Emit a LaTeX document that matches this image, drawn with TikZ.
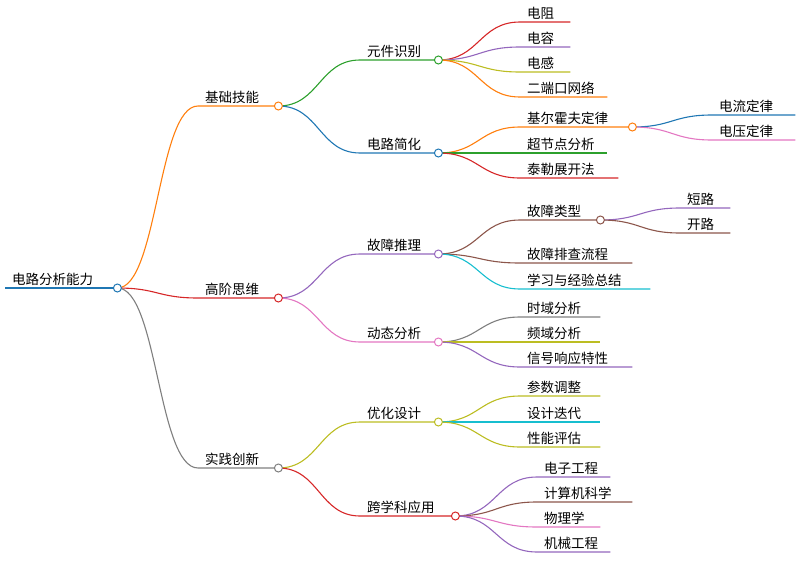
\documentclass[tikz,border=0pt]{standalone}
\usepackage{fontspec}
\setmainfont{Noto Sans CJK SC}
\usetikzlibrary{calc}
\definecolor{cor}{HTML}{FF7F0E}\definecolor{cre}{HTML}{D62728}
\definecolor{cgr}{HTML}{2CA02C}\definecolor{cbl}{HTML}{1F77B4}
\definecolor{cpu}{HTML}{9467BD}\definecolor{cpi}{HTML}{E377C2}
\definecolor{col}{HTML}{BCBD22}\definecolor{cbr}{HTML}{8C564B}
\definecolor{cgy}{HTML}{7F7F7F}\definecolor{ccy}{HTML}{17BECF}
\tikzset{lbl/.style={anchor=south west,inner xsep=0pt,inner ysep=2pt,font=\fontsize{13.5pt}{15pt}\selectfont,align=left},
 ln/.style={line width=1.1pt},
 dot/.style={circle,draw,fill=white,line width=1pt,minimum size=8pt,inner sep=0pt}}
\newcommand\dt[2]{\node[dot,draw=#2] at (#1.south east) {};}
\newcommand\cc[7]{%
 \node[lbl,text width=#4pt-#2pt] (#1) at (#2,#3) {\hspace*{7pt}#5};
 \draw[ln,#6] (#7) .. controls ($(#7)!0.5!(#7 -| #1.south west)$) and ($(#1.south west)!0.5!(#1.south west -| #7)$) .. (#1.south west) -- (#1.south east);}
\begin{document}
\begin{tikzpicture}[x=1pt,y=-1pt]
\useasboundingbox (0,0) rectangle (800,573);
\node[lbl,text width=112pt] (root) at (5,288) {\hspace*{7pt}电路分析能力};
\draw[line width=2.5pt,cbl] (root.south west) -- (root.south east);
\coordinate (r) at (root.south east);
\cc{a}{198}{106}{278}{基础技能}{cor}{r}
\cc{b}{198}{298}{278}{高阶思维}{cre}{r}
\cc{c}{198}{468}{278}{实践创新}{cgy}{r}
\cc{a1}{360}{60}{438}{元件识别}{cgr}{a.south east}
\cc{a2}{360}{153}{438}{电路简化}{cbl}{a.south east}
\cc{b1}{360}{254}{438}{故障推理}{cpu}{b.south east}
\cc{b2}{360}{342}{438}{动态分析}{cpi}{b.south east}
\cc{c1}{360}{422}{438}{优化设计}{col}{c.south east}
\cc{c2}{360}{516}{455}{跨学科应用}{cre}{c.south east}
\cc{a11}{520}{22}{570}{电阻}{cre}{a1.south east}
\cc{a12}{520}{47}{570}{电容}{cpu}{a1.south east}
\cc{a13}{520}{72}{570}{电感}{col}{a1.south east}
\cc{a14}{520}{97}{607}{二端口网络}{cor}{a1.south east}
\cc{a21}{520}{127}{632}{基尔霍夫定律}{cor}{a2.south east}
\cc{a22}{520}{153}{607}{超节点分析}{cgr}{a2.south east}
\cc{a23}{520}{178}{618}{泰勒展开法}{cre}{a2.south east}
\cc{a211}{712}{115}{795}{电流定律}{cbl}{a21.south east}
\cc{a212}{712}{140}{795}{电压定律}{cpi}{a21.south east}
\cc{b11}{520}{220}{600}{故障类型}{cbr}{b1.south east}
\cc{b12}{520}{263}{632}{故障排查流程}{cbr}{b1.south east}
\cc{b13}{520}{289}{650}{学习与经验总结}{ccy}{b1.south east}
\cc{b111}{680}{208}{730}{短路}{cpu}{b11.south east}
\cc{b112}{680}{233}{730}{开路}{cbr}{b11.south east}
\cc{b21}{520}{317}{600}{时域分析}{cgy}{b2.south east}
\cc{b22}{520}{342}{600}{频域分析}{col}{b2.south east}
\cc{b23}{520}{367}{632}{信号响应特性}{cpu}{b2.south east}
\cc{c11}{520}{396}{600}{参数调整}{col}{c1.south east}
\cc{c12}{520}{422}{600}{设计迭代}{ccy}{c1.south east}
\cc{c13}{520}{447}{600}{性能评估}{col}{c1.south east}
\cc{c21}{537}{477}{610}{电子工程}{cpu}{c2.south east}
\cc{c22}{537}{502}{632}{计算机科学}{cbr}{c2.south east}
\cc{c23}{537}{527}{600}{物理学}{cpi}{c2.south east}
\cc{c24}{537}{552}{610}{机械工程}{cpu}{c2.south east}
\node[dot,draw=cbl] at (r) {};
\dt{a}{cor}\dt{b}{cre}\dt{c}{cgy}
\dt{a1}{cgr}\dt{a2}{cbl}\dt{b1}{cpu}\dt{b2}{cpi}\dt{c1}{col}\dt{c2}{cre}
\dt{a21}{cor}\dt{b11}{cbr}
\end{tikzpicture}
\end{document}
